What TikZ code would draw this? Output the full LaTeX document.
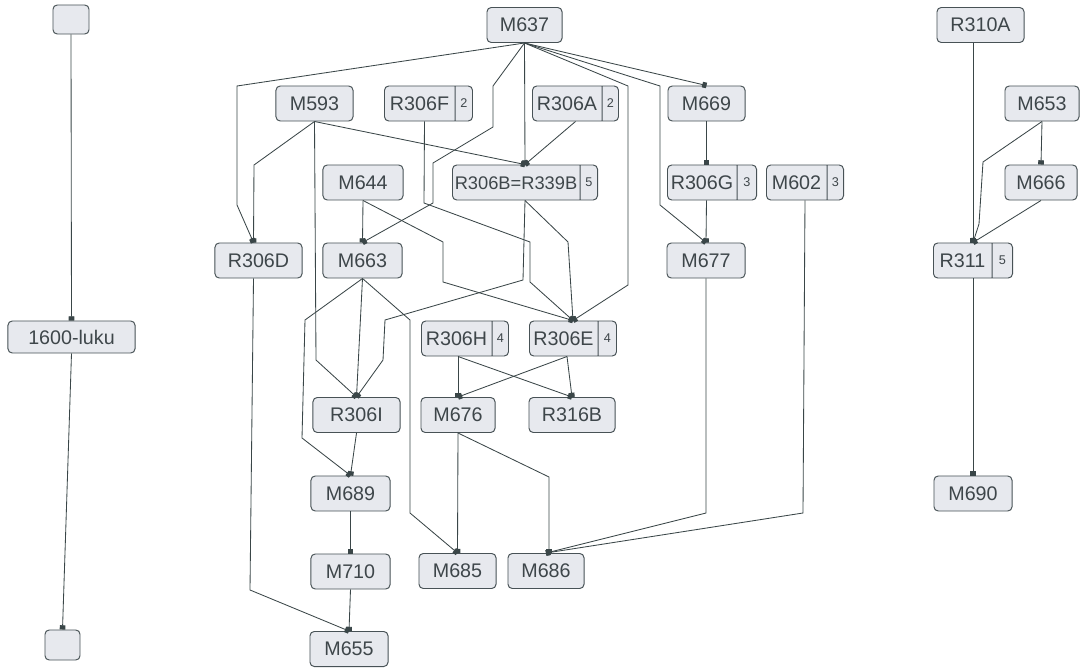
\documentclass[tikz,border=0pt]{standalone}
\usepackage{fontspec}
\setmainfont{Liberation Sans}
\usetikzlibrary{shapes.multipart,arrows.meta,calc}
\definecolor{BoxFill}{RGB}{231,233,238}
\definecolor{BoxLine}{RGB}{72,82,86}
\definecolor{WireGray}{RGB}{58,70,72}
\definecolor{TextGray}{RGB}{62,70,74}
\newcommand{\cntfont}{\fontsize{9}{10}\selectfont}
\newcommand{\boxstrut}{\rule[-0.26cm]{0pt}{0.875cm}}
\tikzset{
  mbox/.style={draw=BoxLine,fill=BoxFill,rounded corners=3pt,
               minimum height=0.875cm,inner sep=0pt,
               font=\fontsize{14}{16}\selectfont,text=TextGray,line width=0.7pt},
  sbox/.style={mbox,rectangle split,rectangle split horizontal,
               rectangle split parts=2},
  link/.style={-{Square[length=3pt,width=4pt]},WireGray,line width=0.6pt},
}

\begin{document}
\begin{tikzpicture}[x=0.025cm,y=-0.025cm]
  \useasboundingbox (0,0) rectangle (1081,670);

  % left chain
  \node[mbox, minimum width=0.9cm, minimum height=0.725cm] (blank1) at (71,19.5) {};
  \node[mbox, minimum width=3.175cm, minimum height=0.8cm] (luku) at (71.5,337) {1600-luku};
  \node[mbox, minimum width=0.875cm, minimum height=0.75cm] (blank2) at (62.5,645) {};

  % middle part
  \node[mbox, minimum width=1.875cm] (m637) at (524.5,25) {M637};
  \node[mbox, minimum width=1.925cm] (m593) at (314.5,103.5) {M593};
  \node[sbox] (r306f) at (428.5,103.5) {\boxstrut\makebox[1.75cm]{R306F}\nodepart{two}\makebox[0.425cm]{\cntfont 2}};
  \node[sbox] (r306a) at (575.5,103.5) {\boxstrut\makebox[1.725cm]{R306A}\nodepart{two}\makebox[0.4cm]{\cntfont 2}};
  \node[mbox, minimum width=1.925cm] (m669) at (706.5,103.5) {M669};
  \node[mbox, minimum width=2cm] (m644) at (363,182.5) {M644};
  \node[sbox] (r306b) at (525,182.5) {\boxstrut\makebox[3.175cm]{\fontsize{13}{15}\selectfont R306B=R339B}\nodepart{two}\makebox[0.425cm]{\cntfont 5}};
  \node[sbox] (r306g) at (712,182.5) {\boxstrut\makebox[1.725cm]{R306G}\nodepart{two}\makebox[0.475cm]{\cntfont 3}};
  \node[sbox] (m602) at (805,182.5) {\boxstrut\makebox[1.5cm]{M602}\nodepart{two}\makebox[0.4cm]{\cntfont 3}};
  \node[mbox, minimum width=2.175cm] (r306d) at (258.5,260.5) {R306D};
  \node[mbox, minimum width=1.975cm] (m663) at (362.5,260.5) {M663};
  \node[mbox, minimum width=1.95cm] (m677) at (706,260.5) {M677};
  \node[sbox] (r306h) at (465,338.5) {\boxstrut\makebox[1.75cm]{R306H}\nodepart{two}\makebox[0.4cm]{\cntfont 4}};
  \node[sbox] (r306e) at (573,338.5) {\boxstrut\makebox[1.7cm]{R306E}\nodepart{two}\makebox[0.45cm]{\cntfont 4}};
  \node[mbox, minimum width=2.175cm] (r306i) at (356.5,415) {R306I};
  \node[mbox, minimum width=1.85cm] (m676) at (458,415) {M676};
  \node[mbox, minimum width=2.15cm] (r316b) at (572,415) {R316B};
  \node[mbox, minimum width=1.975cm] (m689) at (350.5,493.5) {M689};
  \node[mbox, minimum width=1.975cm] (m710) at (350.5,571.5) {M710};
  \node[mbox, minimum width=1.925cm] (m685) at (457.5,571) {M685};
  \node[mbox, minimum width=1.9cm] (m686) at (546,571) {M686};
  \node[mbox, minimum width=1.95cm] (m655) at (349,649) {M655};

  % right part
  \node[mbox, minimum width=2.175cm] (r310a) at (980.5,25) {R310A};
  \node[mbox, minimum width=1.85cm] (m653) at (1042,103.5) {M653};
  \node[mbox, minimum width=1.8cm] (m666) at (1041,182.5) {M666};
  \node[sbox] (r311) at (973,260.5) {\boxstrut\makebox[1.45cm]{R311}\nodepart{two}\makebox[0.5cm]{\cntfont 5}};
  \node[mbox, minimum width=1.95cm] (m690) at (973,493.5) {M690};

  % left links
  \draw[link] (blank1.south) -- (luku.north);
  \draw[link] (luku.south) -- (blank2.north);

  % right links
  \draw[link] (r310a.south -| r311.north) -- (r311.north);
  \draw[link] (m653.south) -- (m666.north);
  \draw[link] (m653.south) -- (983,162) -- (979,224) -- (r311.north);
  \draw[link] (m666.south) -- (r311.north);
  \draw[link] (r311.south) -- (m690.north);

  % from M637
  \draw[link] (m637.south) -- (237,86) -- (237,205) -- ($(r306d.north)+(-5,0)$);
  \draw[link] (m637.south) -- (r306b.north);
  \draw[link] (m637.south) -- (493,86) -- (493,127) -- (433,163) -- (433,203) -- (m663.north);
  \draw[link] (m637.south) -- (628,86) -- (628,285) -- (r306e.north);
  \draw[link] (m637.south) -- (660,86) -- (660,205) -- (m677.north);
  \draw[link] (m637.south) -- (m669.north);

  % upper rows
  \draw[link] (m593.south) -- (254,165) -- ($(r306d.north)+(-5,0)$);
  \draw[link] (m593.south) -- (r306b.north);
  \draw[link] (m593.south) -- (316,360) -- (r306i.north);
  \draw[link] (r306a.south) -- (r306b.north);
  \draw[link] ($(r306f.south)+(-4,0)$) -- (424,203) -- (530,242) -- (530,282) -- (r306e.north);
  \draw[link] (m644.south) -- (m663.north);
  \draw[link] (m644.south) -- (443,242) -- (443,282) -- (r306e.north);
  \draw[link] (r306b.south) -- (568,242) -- (r306e.north);
  \draw[link] (r306b.south) -- (523,280) -- (385,320) -- (383,360) -- (r306i.north);
  \draw[link] (m669.south) -- (m669.south |- r306g.north);
  \draw[link] (m669.south |- r306g.south) -- (m677.north);

  % lower rows
  \draw[link] (m663.south) -- (r306i.north);
  \draw[link] (m663.south) -- (305,320) -- (302,438) -- (m689.north);
  \draw[link] (m663.south) -- (410,320) -- (410,513) -- (m685.north);
  \draw[link] ($(r306d.south)+(-5,0)$) -- (250,590) -- (m655.north);
  \draw[link] (r306i.south) -- (m689.north);
  \draw[link] (m689.south) -- (m710.north);
  \draw[link] (m710.south) -- (m655.north);
  \draw[link] ($(r306h.south)+(-7,0)$) -- (m676.north);
  \draw[link] ($(r306h.south)+(-7,0)$) -- (r316b.north);
  \draw[link] ($(r306e.south)+(-6,0)$) -- (m676.north);
  \draw[link] ($(r306e.south)+(-6,0)$) -- (r316b.north);
  \draw[link] (m676.south) -- (m685.north);
  \draw[link] (m676.south) -- (549,477) -- ($(m686.north)+(3,0)$);
  \draw[link] (m677.south) -- (706,513) -- (m686.north);
  \draw[link] (m602.south) -- (803,513) -- (m686.north);
\end{tikzpicture}
\end{document}
